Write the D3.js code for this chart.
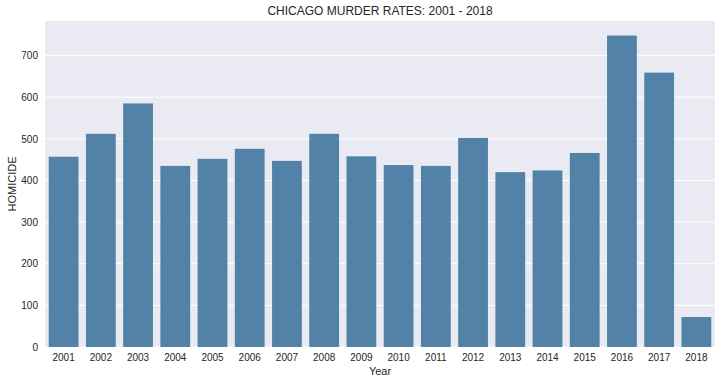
<!DOCTYPE html>
<html>
<head>
<meta charset="utf-8">
<script src="https://cdn.jsdelivr.net/npm/d3@7"></script>
<style>
  body { margin: 0; background: #fff; }
  text { font-family: "Liberation Sans", Arial, sans-serif; }
</style>
</head>
<body>
<div id="chart"></div>
<script>
// chart data
var years = ["2001", "2002", "2003", "2004", "2005", "2006", "2007", "2008", "2009",
  "2010", "2011", "2012", "2013", "2014", "2015", "2016", "2017", "2018"];
var homicides = [457, 512, 585, 435, 452, 476, 447, 512, 458, 437, 435, 502, 420, 424, 466, 748, 659, 72];
var yTicks = [0, 100, 200, 300, 400, 500, 600, 700];

var svgWidth = 721;
var svgHeight = 384;

var margin = { top: 21, right: 6, bottom: 37, left: 45 };
var width = svgWidth - margin.left - margin.right;
var height = svgHeight - margin.top - margin.bottom;

var svg = d3.select("#chart")
  .append("svg")
  .attr("width", svgWidth)
  .attr("height", svgHeight);

var chartGroup = svg.append("g")
  .attr("transform", `translate(${margin.left}, ${margin.top})`);

// background panel
chartGroup.append("rect")
  .attr("width", width)
  .attr("height", height)
  .attr("fill", "#eaeaf2");

var xScale = d3.scaleBand()
  .domain(years)
  .range([0, width])
  .padding(0.2)
  .paddingOuter(0.1);

var yScale = d3.scaleLinear()
  .domain([0, 783])
  .range([height, 0]);

// grid lines
chartGroup.selectAll(".grid")
  .data(yTicks)
  .enter()
  .append("line")
  .attr("x1", 0)
  .attr("x2", width)
  .attr("y1", d => yScale(d))
  .attr("y2", d => yScale(d))
  .attr("stroke", "#fff")
  .attr("stroke-width", 1);

// bars
chartGroup.selectAll(".bar")
  .data(years)
  .enter()
  .append("rect")
  .attr("x", d => xScale(d))
  .attr("width", xScale.bandwidth())
  .attr("y", (d, i) => yScale(homicides[i]))
  .attr("height", (d, i) => height - yScale(homicides[i]))
  .attr("fill", "#5282a7");

// axes
var bottomAxis = d3.axisBottom(xScale).tickSize(0).tickPadding(7);
var leftAxis = d3.axisLeft(yScale).tickValues(yTicks).tickSize(0).tickPadding(7);

var xAxisG = chartGroup.append("g")
  .attr("transform", `translate(0, ${height})`)
  .call(bottomAxis);

var yAxisG = chartGroup.append("g")
  .call(leftAxis);

[xAxisG, yAxisG].forEach(function(g) {
  g.select(".domain").remove();
  g.selectAll("text")
    .attr("fill", "#262626")
    .style("font-size", "10px");
});

// labels
svg.append("text")
  .attr("x", margin.left + width / 2)
  .attr("y", 15)
  .attr("text-anchor", "middle")
  .attr("fill", "#262626")
  .style("font-size", "12px")
  .text("CHICAGO MURDER RATES: 2001 - 2018");

svg.append("text")
  .attr("x", margin.left + width / 2)
  .attr("y", 375)
  .attr("text-anchor", "middle")
  .attr("fill", "#262626")
  .style("font-size", "11px")
  .text("Year");

svg.append("text")
  .attr("transform", "rotate(-90)")
  .attr("x", -(margin.top + height / 2))
  .attr("y", 16)
  .attr("text-anchor", "middle")
  .attr("fill", "#262626")
  .style("font-size", "11px")
  .text("HOMICIDE");
</script>
</body>
</html>
